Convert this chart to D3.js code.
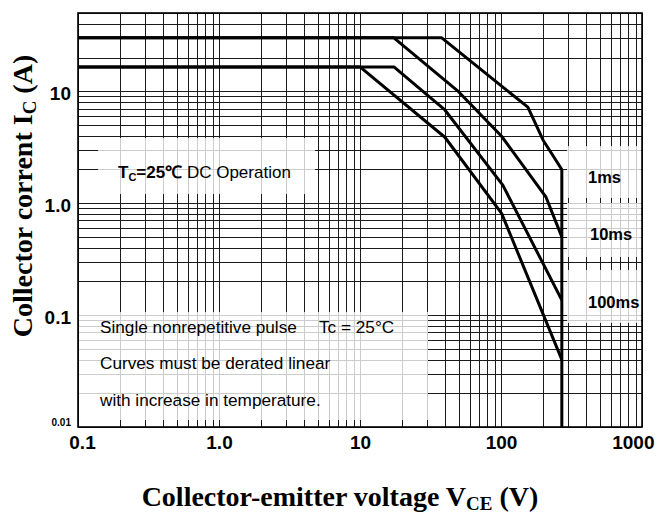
<!DOCTYPE html>
<html>
<head>
<meta charset="utf-8">
<script src="https://cdn.jsdelivr.net/npm/d3@7"></script>
<style>
html,body{margin:0;padding:0;background:#fff;}
svg{display:block;}
</style>
</head>
<body>
<svg id="chart" width="658" height="513"></svg>
<script>
// ---------- data ----------
const xTickValues = [0.1, 1, 10, 100, 1000];
const xTickLabels = ["0.1", "1.0", "10", "100", "1000"];
const yTickValues = [0.01, 0.1, 1, 10];
const yTickLabels = ["0.01", "0.1", "1.0", "10"];

const dcV    = [0.1, 10, 40, 101, 270];
const dcI    = [16.5, 16.5, 3.88, 0.81, 0.04];
const ms100V = [0.1, 17.4, 40, 103, 270];
const ms100I = [16.5, 16.5, 6.8, 1.45, 0.136];
const ms10V  = [0.1, 17.4, 50, 101, 208, 270];
const ms10I  = [30, 30, 9.9, 3.96, 1.14, 0.5];
const ms1V   = [0.1, 38, 155, 199, 270];
const ms1I   = [30, 30, 7.2, 3.65, 2.0];
const limitV = [270, 270];
const limitI = [2.0, 0.01];

const pulseLabels = ["1ms", "10ms", "100ms"];

// ---------- layout ----------
const L = 78, R = 642, T = 13, B = 427;
const svg = d3.select("#chart");
const x = d3.scaleLog().domain([0.1, 1000]).range([L, R]);
const y = d3.scaleLog().domain([0.01, 50]).range([B, T]);

// grid values (minor 1..9 per decade)
const xGrid = [];
for (let k = -1; k <= 2; k++) for (let m = 1; m <= 9; m++) xGrid.push(m * Math.pow(10, k));
xGrid.push(1000);
const yGrid = [];
for (let k = -2; k <= 0; k++) for (let m = 1; m <= 9; m++) yGrid.push(m * Math.pow(10, k));
yGrid.push(10, 20, 30, 40, 50);

const gridX = svg.append("g").attr("transform", `translate(0,${B})`)
  .call(d3.axisBottom(x).tickValues(xGrid).tickSize(-(B - T)).tickFormat(""));
gridX.select(".domain").remove();
gridX.selectAll("line").attr("stroke", "#1a1a1a").attr("stroke-width", 1).attr("shape-rendering", "crispEdges");

const gridY = svg.append("g").attr("transform", `translate(${L},0)`)
  .call(d3.axisLeft(y).tickValues(yGrid).tickSize(-(R - L)).tickFormat(""));
gridY.select(".domain").remove();
gridY.selectAll("line").attr("stroke", "#1a1a1a").attr("stroke-width", 1).attr("shape-rendering", "crispEdges");

// frame
svg.append("rect").attr("x", L).attr("y", T).attr("width", R - L).attr("height", B - T)
  .attr("fill", "none").attr("stroke", "#000").attr("stroke-width", 1.6);

// semi-opaque text panels (grid shows light grey under them)
const panels = [
  [98, 138, 315, 194],
  [79, 312, 428, 420],
  [567, 146, 641, 198],
  [567, 203, 641, 257],
  [567, 270, 641, 323]
];
svg.append("g").selectAll("rect").data(panels).join("rect")
  .attr("x", d => d[0]).attr("y", d => d[1])
  .attr("width", d => d[2] - d[0]).attr("height", d => d[3] - d[1])
  .attr("fill", "#fff").attr("fill-opacity", 0.78);

// curves
const line = d3.line().x(d => x(d[0])).y(d => y(d[1]));
const series = [
  d3.zip(dcV, dcI),
  d3.zip(ms100V, ms100I),
  d3.zip(ms10V, ms10I),
  d3.zip(ms1V, ms1I),
  d3.zip(limitV, limitI)
];
svg.append("g").selectAll("path").data(series).join("path")
  .attr("d", line).attr("fill", "none").attr("stroke", "#000")
  .attr("stroke-width", 3).attr("stroke-linejoin", "round");

// axis tick labels
const xAx = svg.append("g").attr("transform", `translate(0,${B})`)
  .call(d3.axisBottom(x).tickValues(xTickValues).tickSize(0)
    .tickFormat((d, i) => xTickLabels[i]));
xAx.select(".domain").remove();
xAx.selectAll("text")
  .attr("font-family", "Liberation Sans, Arial, sans-serif")
  .attr("font-weight", "bold").attr("font-size", 19).attr("fill", "#000")
  .attr("dy", null).attr("y", 22)
  .attr("text-anchor", (d, i) => i === xTickValues.length - 1 ? "end" : "middle")
  .attr("x", (d, i) => i === xTickValues.length - 1 ? 12 : (i === 0 ? 4 : 0));

const yAx = svg.append("g").attr("transform", `translate(${L - 7},0)`)
  .call(d3.axisLeft(y).tickValues(yTickValues).tickSize(0)
    .tickFormat((d, i) => yTickLabels[i]));
yAx.select(".domain").remove();
yAx.selectAll("text")
  .attr("font-family", "Liberation Sans, Arial, sans-serif")
  .attr("font-weight", "bold").attr("fill", "#000").attr("x", 0)
  .attr("font-size", (d, i) => i === 0 ? 10 : 19)
  .attr("dy", (d, i) => i === 0 ? "-0.2em" : "0.42em");

// pulse labels
svg.append("g").selectAll("text").data(pulseLabels).join("text")
  .attr("x", (d, i) => i === 1 ? 590 : 588)
  .attr("y", (d, i) => [183, 240, 308][i])
  .attr("font-family", "Liberation Sans, Arial, sans-serif")
  .attr("font-weight", "bold").attr("font-size", 16.5).attr("fill", "#000")
  .text(d => d);

// DC operation note
const note = svg.append("text").attr("x", 118).attr("y", 178)
  .attr("font-family", "Liberation Sans, Arial, sans-serif").attr("font-size", 17).attr("fill", "#000");
note.append("tspan").attr("font-weight", "bold").text("T");
note.append("tspan").attr("font-weight", "bold").attr("font-size", 11).attr("dy", 3).text("C");
note.append("tspan").attr("font-weight", "bold").attr("dy", -3).text("=25℃");
note.append("tspan").text(" DC Operation");

// bottom-left notes
const notes = [
  ["Single nonrepetitive pulse", 100, 333],
  ["Tc = 25°C", 319, 333],
  ["Curves must be derated linear", 100, 369],
  ["with increase in temperature.", 100, 406]
];
svg.append("g").selectAll("text").data(notes).join("text")
  .attr("x", d => d[1]).attr("y", d => d[2])
  .attr("font-family", "Liberation Sans, Arial, sans-serif").attr("font-size", 17.2).attr("fill", "#000")
  .text(d => d[0]);

// axis titles
const xt = svg.append("text").attr("x", 340).attr("y", 506).attr("text-anchor", "middle")
  .attr("font-family", "Liberation Serif, Times New Roman, serif").attr("font-weight", "bold")
  .attr("font-size", 28).attr("fill", "#000");
xt.append("tspan").text("Collector-emitter voltage V");
xt.append("tspan").attr("font-size", 19).attr("dy", 4).text("CE");
xt.append("tspan").attr("dy", -4).text(" (V)");

const yt = svg.append("text").attr("transform", "translate(32,196) rotate(-90)").attr("text-anchor", "middle")
  .attr("font-family", "Liberation Serif, Times New Roman, serif").attr("font-weight", "bold")
  .attr("font-size", 28).attr("fill", "#000");
yt.append("tspan").text("Collector corrent I");
yt.append("tspan").attr("font-size", 19).attr("dy", 4).text("C");
yt.append("tspan").attr("dy", -4).text(" (A)");
</script>
</body>
</html>
